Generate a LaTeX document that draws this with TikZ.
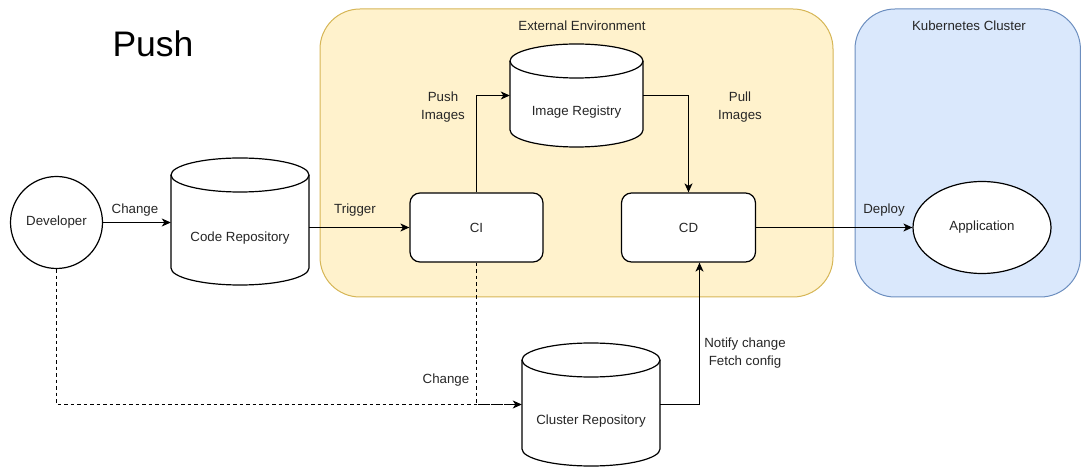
\documentclass[tikz,border=0pt]{standalone}
\usepackage{fontspec}
\setmainfont{Liberation Sans}
\usetikzlibrary{arrows.meta,positioning,calc,shapes.geometric}
\definecolor{yfill}{HTML}{FFF2CC}
\definecolor{ydraw}{HTML}{D6B656}
\definecolor{bfill}{HTML}{DAE8FC}
\definecolor{bdraw}{HTML}{6C8EBF}
\tikzset{
  txt/.style={font=\fontsize{13.3}{17.5}\selectfont, text=black!85, inner sep=0pt, align=center},
  shp/.style={draw=black, line width=1.2pt, fill=white},
  cylstyle/.style={draw=black, line width=1.2pt, fill=white},
  conn/.style={line width=1.2pt, -{Stealth[length=9pt,width=8pt,inset=2.5pt]}},
  dconn/.style={conn, dash pattern=on 3.5pt off 3pt},
  box/.style={shp, rounded corners=10pt, minimum width=133pt, minimum height=69pt, inner sep=0pt}
}
\newcommand\mycyl[6]{%
  \pgfmathsetmacro\cxa{#2}\pgfmathsetmacro\cya{#3}%
  \pgfmathsetmacro\cxb{#4}\pgfmathsetmacro\cyb{#5}%
  \pgfmathsetmacro\crx{(#4-#2)/2}\pgfmathsetmacro\cry{17}%
  \filldraw[cylstyle] (\cxa,\cyb-\cry) -- (\cxa,\cya+\cry)
     arc[start angle=180,end angle=360,x radius=\crx,y radius=\cry]
     -- (\cxb,\cyb-\cry)
     arc[start angle=0,end angle=180,x radius=\crx,y radius=\cry] -- cycle;
  \draw[cylstyle,fill=none] (\cxa,\cyb-\cry)
     arc[start angle=180,end angle=360,x radius=\crx,y radius=\cry];
  \node[inner sep=0pt, minimum width={#4-#2}, minimum height={#5-#3}] (#1) at ({(#2+#4)/2},{(#3+#5)/2}) {};
  \node[txt] (#1-t) at ({(#2+#4)/2},{(#3+#5-34)/2}) {#6};
}
\begin{document}
\begin{tikzpicture}[x=1pt,y=1pt]
\useasboundingbox (0,0) rectangle (1081,466);
% containers
\filldraw[fill=yfill, draw=ydraw, line width=1pt, rounded corners=40pt] (320,169) rectangle (833,457);
\node[txt] (extt) at (582,440) {External Environment};
\filldraw[fill=bfill, draw=bdraw, line width=1pt, rounded corners=40pt] (855,169) rectangle (1080.4,457);
\node[txt] (k8st) at (969,440) {Kubernetes Cluster};
% title
\node[font=\fontsize{35.5}{40}\selectfont, inner sep=0pt] (title) at (153,422) {Push};
% nodes
\node[shp, circle, minimum size=92pt, inner sep=0pt] (dev) at (56.5,243.5) {};
\node[txt] (dev-t) at (dev) {Developer};
\mycyl{code}{171}{181}{309}{308}{Code Repository}
\mycyl{reg}{510}{319}{643}{422}{Image Registry}
\mycyl{clu}{522}{0}{660}{123}{Cluster Repository}
\node[box] (ci) at (476.5,238.5) {};
\node[txt] (ci-t) at (ci) {CI};
\node[box, minimum width=134pt] (cd) at (688.5,238.5) {};
\node[txt] (cd-t) at (cd) {CD};
\node[shp, ellipse, minimum width=138pt, minimum height=92pt, inner sep=0pt] (app) at (982,238.5) {};
\node[txt] (app-t) at (app) {Application};
% connectors
\draw[conn] (dev.east) -- (dev.east -| code.west);
\node[txt] (l1) at (135,256) {Change};
\draw[conn] (code.east |- ci.west) -- (ci.west);
\node[txt] (l2) at (355,256) {Trigger};
\draw[conn] (ci.north) |- (reg.west);
\node[txt] (l3) at (443,359) {Push\\Images};
\draw[conn] (reg.east) -| (cd.north);
\node[txt] (l4) at (740,359) {Pull\\Images};
\draw[conn] (cd.east) -- (app.west);
\node[txt] (l5) at (884,256) {Deploy};
\draw[dconn] (dev.south) |- (clu.west);
\draw[line width=1.2pt, dash pattern=on 3.5pt off 3pt] (ci.south) |- (clu.west);
\node[txt] (l6) at (446,86) {Change};
\draw[conn] (clu.east) -| ([xshift=11pt]cd.south);
\node[txt] (l7) at (745,113) {Notify change\\Fetch config};
\end{tikzpicture}
\end{document}
